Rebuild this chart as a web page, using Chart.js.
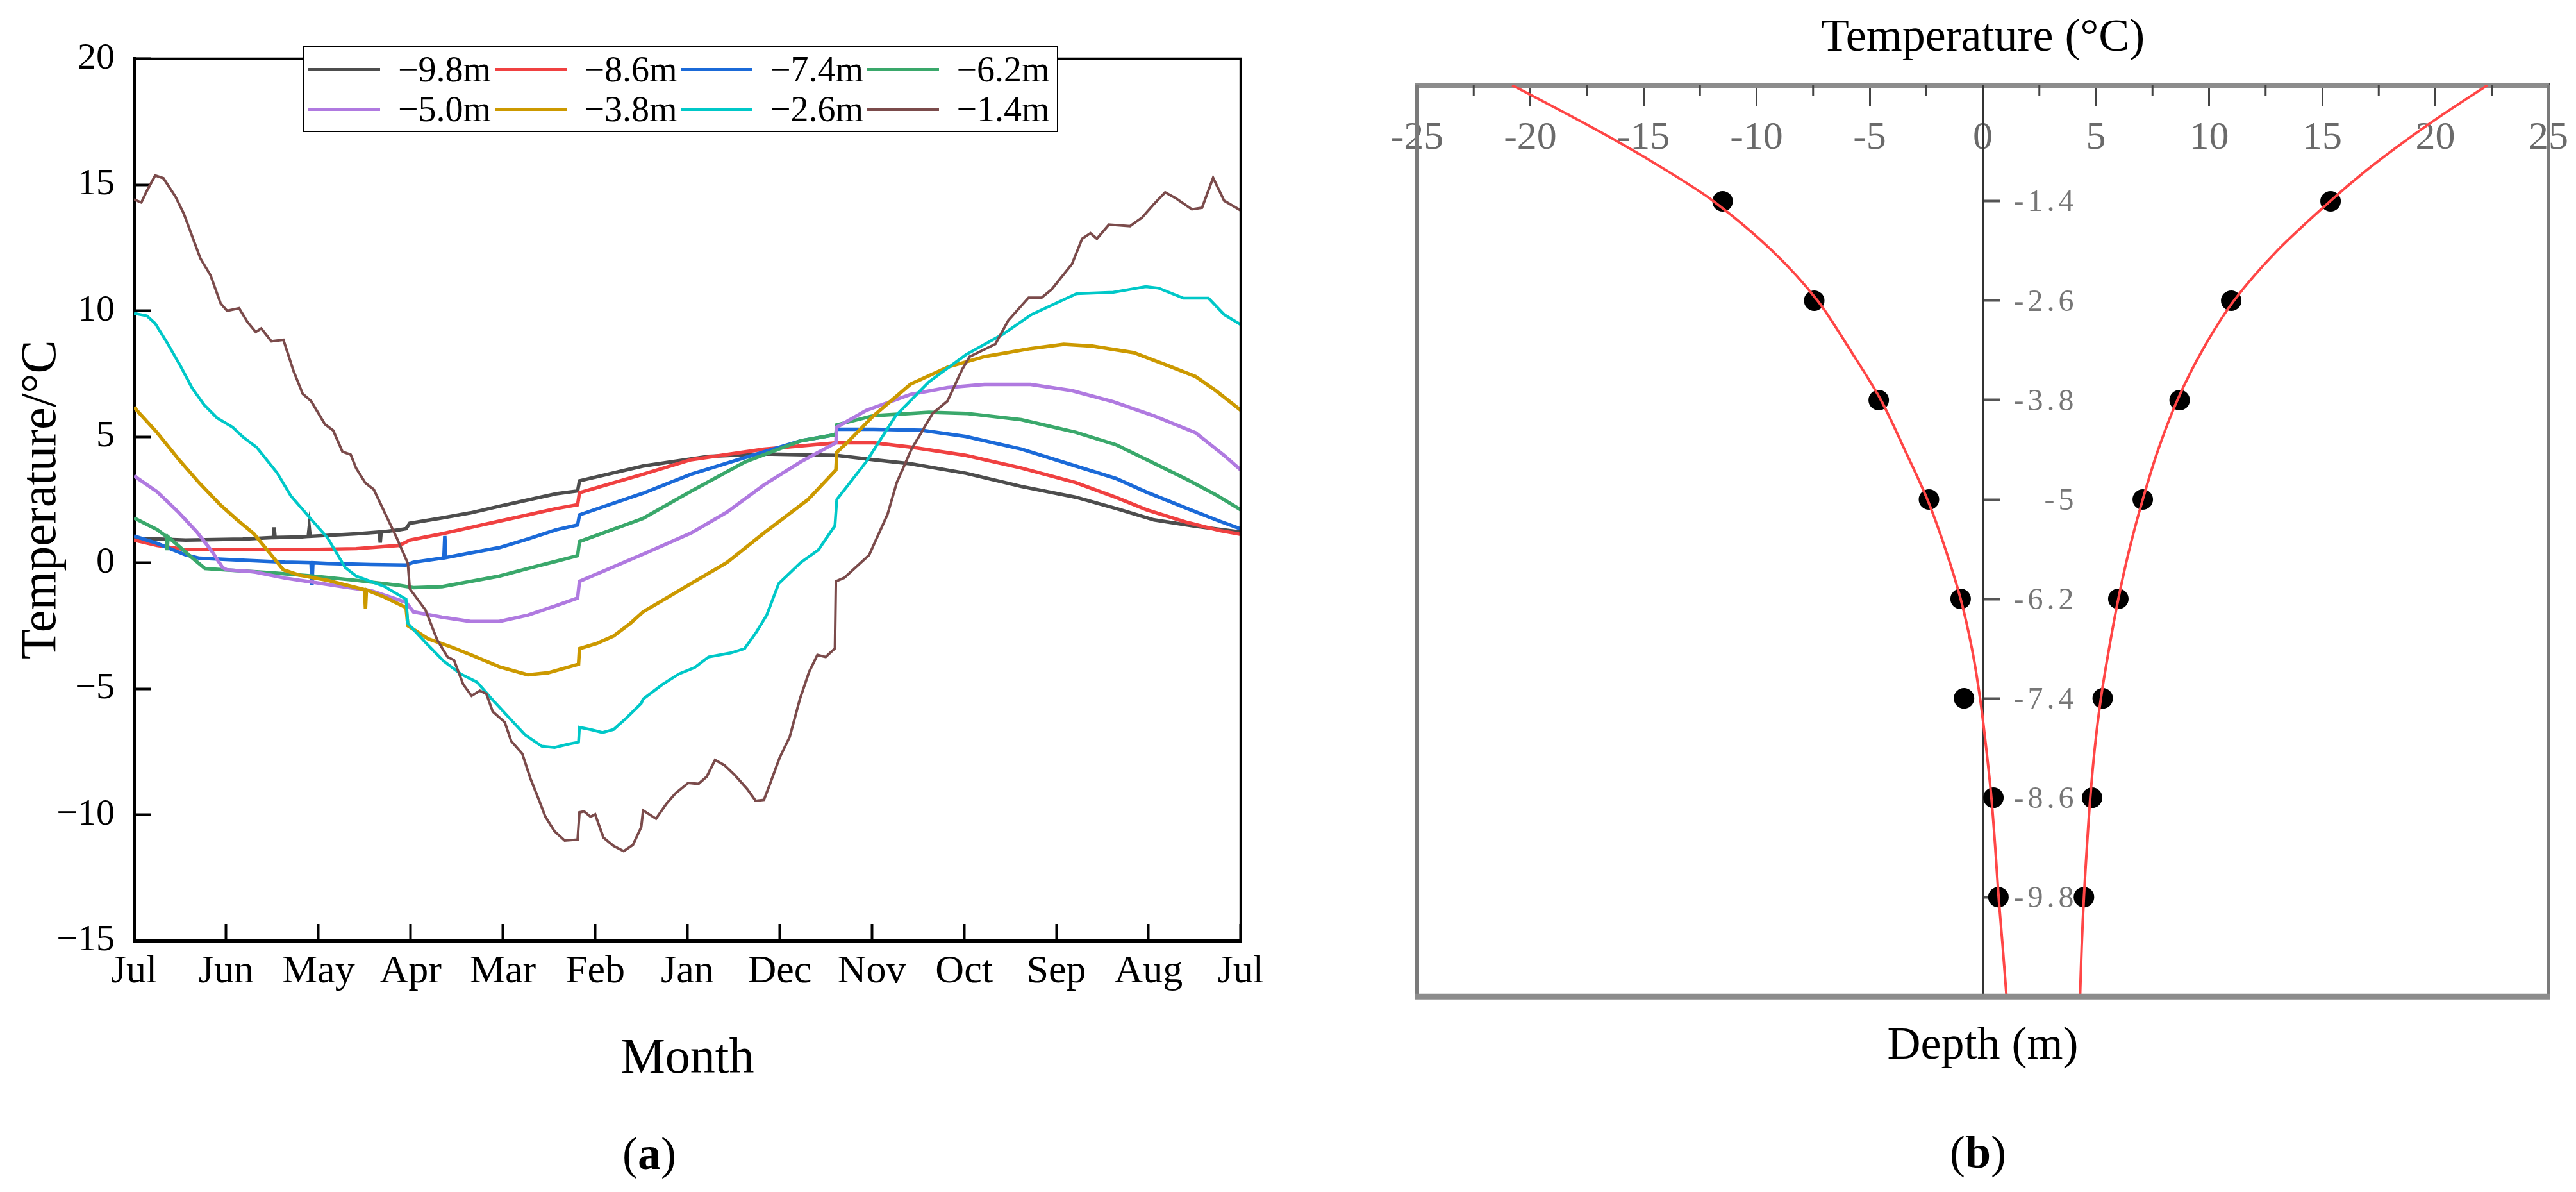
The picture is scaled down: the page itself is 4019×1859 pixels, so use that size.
<!DOCTYPE html>
<html>
<head>
<meta charset="utf-8">
<title>Ground temperature</title>
<script src="https://cdn.jsdelivr.net/npm/chart.js@4.4.1/dist/chart.umd.min.js"></script>
<style>
  html, body { margin: 0; padding: 0; background: #fff; }
  #page { position: relative; width: 4019px; height: 1859px; overflow: hidden; background: #fff; font-family: "Liberation Serif", serif; }
  canvas { position: absolute; top: 0; }
  #chartA { left: 0; }
  #chartB { left: 2010px; }
  #legendA {
    position: absolute; left: 472px; top: 72px; width: 1168px; height: 127px;
    border: 2px solid #000; background: #fff; padding: 3px 0 0 7px; box-sizing: content-box;
    display: grid; grid-template-columns: repeat(4, 290.5px); grid-template-rows: 62px 62px;
  }
  #legendA .item { display: flex; align-items: center; font-size: 56px; line-height: 1; color: #000; }
  #legendA .swatch { display: inline-block; width: 112px; height: 5px; margin-right: 28px; }
  .panel { position: absolute; font-size: 72px; line-height: 1; transform: translate(-50%, -50%); color: #000; }
</style>
</head>
<body>
<div id="page">
  <canvas id="chartA" width="2010" height="1859"></canvas>
  <canvas id="chartB" width="2009" height="1859"></canvas>
  <div id="legendA"></div>
  <div class="panel" style="left:1013px; top:1799px;">(<b>a</b>)</div>
  <div class="panel" style="left:3086px; top:1797px;">(<b>b</b>)</div>
</div>
<script>
// ---------- (a) daily temperature at each depth ----------
const monthLabels = ['Jul', 'Jun', 'May', 'Apr', 'Mar', 'Feb', 'Jan', 'Dec', 'Nov', 'Oct', 'Sep', 'Aug', 'Jul'];
const tempTicks = [-15, -10, -5, 0, 5, 10, 15, 20];
const seriesNames = ['\u22129.8m', '\u22128.6m', '\u22127.4m', '\u22126.2m', '\u22125.0m', '\u22123.8m', '\u22122.6m', '\u22121.4m'];
const seriesColors = ['#4d4d4d', '#f04141', '#1b6ad8', '#3aa86b', '#b07ae0', '#cc9900', '#00c8c8', '#7b4b4b'];
const seriesWidths = [5.5, 5.5, 5.5, 5.5, 5.5, 5.5, 4.5, 4];

// [month position, temperature]
const temp98 = [[0,0.98],[0.56,0.9],[1.18,0.94],[1.51,1.0],[1.52,1.4],[1.53,1.0],[1.8,1.02],[1.89,1.05],[1.9,1.4],[1.91,1.05],[2.41,1.15],[2.66,1.22],[2.67,0.8],[2.68,1.22],[2.88,1.31],[2.95,1.35],[2.99,1.57],[3.34,1.78],[3.65,1.98],[3.96,2.24],[4.27,2.49],[4.58,2.74],[4.81,2.85],[4.83,3.25],[5.52,3.84],[6.23,4.22],[6.83,4.32],[7.62,4.26],[8.02,4.09],[8.42,3.93],[9.02,3.55],[9.62,3.03],[10.21,2.6],[10.65,2.15],[11.06,1.7],[11.51,1.45],[12,1.22]];
const temp86 = [[0,0.9],[0.25,0.69],[0.56,0.52],[1.18,0.52],[1.8,0.52],[2.41,0.56],[2.88,0.69],[2.99,0.9],[3.34,1.15],[3.65,1.4],[3.96,1.65],[4.27,1.9],[4.58,2.15],[4.81,2.3],[4.83,2.78],[5.52,3.51],[6.04,4.09],[6.83,4.51],[7.62,4.76],[8.02,4.76],[8.42,4.59],[9.02,4.26],[9.62,3.76],[10.21,3.18],[10.65,2.59],[10.98,2.1],[11.42,1.6],[11.77,1.28],[12,1.13]];
const temp74 = [[0,1.06],[0.25,0.77],[0.56,0.31],[0.71,0.18],[1.18,0.1],[1.64,0.02],[1.92,0],[1.93,-0.9],[1.94,0],[2.1,-0.03],[2.57,-0.07],[2.95,-0.09],[3.03,0.02],[3.34,0.18],[3.36,0.19],[3.37,1.06],[3.38,0.2],[3.65,0.39],[3.96,0.6],[4.27,0.94],[4.58,1.31],[4.81,1.5],[4.83,1.9],[5.52,2.76],[6.04,3.51],[6.63,4.18],[7.23,4.84],[7.61,5.09],[7.62,5.3],[8.02,5.3],[8.54,5.26],[9.02,5.01],[9.62,4.51],[10.21,3.84],[10.65,3.34],[10.98,2.8],[11.42,2.15],[11.77,1.65],[12,1.34]];
const temp62 = [[0,1.78],[0.25,1.32],[0.35,1.05],[0.36,0.5],[0.37,1.03],[0.49,0.65],[0.62,0.23],[0.77,-0.23],[1.02,-0.29],[1.49,-0.4],[1.95,-0.53],[2.41,-0.7],[2.88,-0.9],[3.03,-0.99],[3.34,-0.95],[3.65,-0.74],[3.96,-0.53],[4.27,-0.23],[4.58,0.06],[4.81,0.28],[4.83,0.84],[5.52,1.76],[6.04,2.84],[6.63,4.01],[7.23,4.84],[7.61,5.09],[7.62,5.47],[8.02,5.84],[8.62,5.97],[9.02,5.93],[9.62,5.68],[10.21,5.18],[10.65,4.68],[11.06,3.95],[11.42,3.3],[11.73,2.7],[12,2.1]];
const temp50 = [[0,3.45],[0.25,2.82],[0.49,1.98],[0.68,1.23],[0.84,0.48],[0.96,-0.19],[1.01,-0.28],[1.3,-0.36],[1.64,-0.61],[1.95,-0.78],[2.26,-0.95],[2.57,-1.11],[2.95,-1.57],[3.03,-1.95],[3.34,-2.16],[3.65,-2.33],[3.96,-2.33],[4.27,-2.08],[4.58,-1.7],[4.81,-1.4],[4.83,-0.74],[5.52,0.34],[6.04,1.18],[6.43,2.01],[6.83,3.09],[7.23,4.01],[7.61,4.76],[7.62,5.38],[7.94,6.05],[8.42,6.68],[8.82,6.95],[9.22,7.08],[9.72,7.08],[10.17,6.83],[10.62,6.39],[11.06,5.83],[11.51,5.16],[11.82,4.26],[12,3.68]];
const temp38 = [[0,6.17],[0.25,5.17],[0.49,4.08],[0.71,3.16],[0.93,2.32],[1.11,1.73],[1.3,1.15],[1.45,0.48],[1.62,-0.28],[1.79,-0.49],[2.1,-0.7],[2.41,-0.99],[2.5,-1.07],[2.51,-1.83],[2.52,-1.08],[2.72,-1.37],[2.95,-1.78],[2.97,-2.5],[3.19,-3.02],[3.43,-3.33],[3.65,-3.65],[3.96,-4.13],[4.27,-4.45],[4.49,-4.37],[4.82,-4.03],[4.83,-3.41],[5.02,-3.2],[5.2,-2.91],[5.38,-2.41],[5.52,-1.95],[6.04,-0.83],[6.43,0.01],[6.83,1.18],[7.31,2.51],[7.61,3.68],[7.62,4.38],[7.73,4.76],[8.02,5.84],[8.42,7.09],[8.82,7.76],[9.22,8.18],[9.72,8.5],[10.08,8.67],[10.39,8.6],[10.84,8.34],[11.2,7.84],[11.51,7.39],[11.73,6.83],[12,6.05]];
const temp26 = [[0,9.9],[0.14,9.8],[0.23,9.5],[0.36,8.73],[0.5,7.84],[0.63,6.94],[0.76,6.27],[0.9,5.75],[1.07,5.38],[1.18,5.0],[1.33,4.58],[1.55,3.58],[1.7,2.66],[1.92,1.73],[2.1,0.98],[2.29,-0.19],[2.41,-0.53],[2.72,-0.95],[2.95,-1.45],[2.97,-2.41],[3.18,-3.24],[3.36,-3.91],[3.54,-4.41],[3.72,-4.74],[3.86,-5.33],[4.07,-6.16],[4.24,-6.83],[4.42,-7.28],[4.56,-7.33],[4.71,-7.2],[4.82,-7.12],[4.83,-6.53],[4.95,-6.62],[5.08,-6.74],[5.2,-6.62],[5.34,-6.16],[5.5,-5.58],[5.52,-5.41],[5.73,-4.83],[5.91,-4.41],[6.08,-4.16],[6.23,-3.74],[6.47,-3.58],[6.62,-3.41],[6.75,-2.74],[6.86,-2.08],[6.99,-0.83],[7.23,0.01],[7.42,0.51],[7.6,1.47],[7.62,2.51],[7.94,4.01],[8.26,5.84],[8.62,7.18],[9.02,8.26],[9.42,9.07],[9.73,9.85],[10.22,10.68],[10.62,10.74],[10.97,10.96],[11.11,10.9],[11.38,10.5],[11.65,10.5],[11.82,9.85],[12,9.45]];
const temp14 = [[0,14.42],[0.08,14.3],[0.14,14.76],[0.23,15.37],[0.32,15.26],[0.45,14.53],[0.54,13.86],[0.63,12.97],[0.72,12.08],[0.83,11.41],[0.94,10.29],[1.01,10.0],[1.14,10.1],[1.23,9.56],[1.32,9.16],[1.38,9.3],[1.49,8.79],[1.62,8.85],[1.73,7.61],[1.83,6.7],[1.92,6.42],[2.07,5.5],[2.16,5.25],[2.26,4.41],[2.35,4.29],[2.41,3.74],[2.51,3.16],[2.6,2.91],[2.72,1.98],[2.85,0.98],[2.97,-0.03],[2.99,-1.03],[3.16,-1.87],[3.29,-3.08],[3.4,-3.74],[3.47,-3.87],[3.57,-4.83],[3.66,-5.28],[3.75,-5.08],[3.82,-5.2],[3.89,-5.91],[4.02,-6.33],[4.09,-7.08],[4.21,-7.58],[4.3,-8.58],[4.39,-9.41],[4.46,-10.08],[4.56,-10.66],[4.67,-11.03],[4.81,-10.99],[4.83,-9.91],[4.88,-9.87],[4.95,-10.08],[5.0,-9.99],[5.09,-10.91],[5.2,-11.24],[5.31,-11.45],[5.41,-11.2],[5.5,-10.49],[5.52,-9.83],[5.66,-10.16],[5.77,-9.58],[5.87,-9.16],[6.01,-8.74],[6.12,-8.78],[6.21,-8.49],[6.3,-7.83],[6.4,-8.03],[6.51,-8.41],[6.65,-8.99],[6.74,-9.45],[6.83,-9.41],[6.9,-8.74],[7.0,-7.74],[7.11,-6.91],[7.22,-5.41],[7.32,-4.33],[7.41,-3.66],[7.5,-3.74],[7.6,-3.4],[7.61,-0.74],[7.7,-0.6],[7.97,0.3],[8.17,1.92],[8.27,3.18],[8.43,4.51],[8.66,5.93],[8.82,6.42],[8.98,7.68],[9.06,8.18],[9.34,8.68],[9.48,9.62],[9.7,10.52],[9.84,10.52],[9.95,10.85],[10.17,11.86],[10.28,12.86],[10.37,13.08],[10.44,12.86],[10.57,13.42],[10.8,13.36],[10.93,13.7],[11.05,14.2],[11.18,14.7],[11.29,14.48],[11.47,14.03],[11.58,14.09],[11.7,15.28],[11.82,14.37],[12,13.98]];
const seriesData = [temp98, temp86, temp74, temp62, temp50, temp38, temp26, temp14];

// ---------- (b) extreme temperature envelope vs depth ----------
const depthTicks = [-1.4, -2.6, -3.8, -5, -6.2, -7.4, -8.6, -9.8];
const minTemps = [-11.5, -7.45, -4.6, -2.38, -0.98, -0.83, 0.47, 0.69];
const maxTemps = [15.37, 10.98, 8.7, 7.07, 5.99, 5.3, 4.83, 4.47];
const fitDepths = [0, -0.35, -0.7, -1.05, -1.4, -2.0, -2.6, -3.2, -3.8, -4.4, -5.0, -5.6, -6.2, -6.8, -7.4, -8.0, -8.6, -9.2, -9.8, -10.4, -11];
const fitMin = [-20.8, -18.35, -16.0, -13.85, -11.9, -9.3, -7.3, -5.85, -4.5, -3.45, -2.45, -1.65, -0.98, -0.48, -0.12, 0.15, 0.38, 0.55, 0.7, 0.88, 1.05];
const fitMax = [22.3, 20.35, 18.53, 16.85, 15.35, 13.0, 11.1, 9.7, 8.6, 7.75, 7.07, 6.48, 5.99, 5.58, 5.22, 4.95, 4.75, 4.6, 4.47, 4.37, 4.3];
const minorTempTicks = [-22.5, -17.5, -12.5, -7.5, -2.5, 2.5, 7.5, 12.5, 17.5, 22.5];

const serif = 'Liberation Serif';

// legend of (a) as html
const legendBox = document.getElementById('legendA');
seriesNames.forEach((name, i) => {
  const item = document.createElement('div');
  item.className = 'item';
  const sw = document.createElement('span');
  sw.className = 'swatch';
  sw.style.background = seriesColors[i];
  item.appendChild(sw);
  item.appendChild(document.createTextNode(name));
  legendBox.appendChild(item);
});

// top and right edge of the frame of (a)
const frameA = {
  id: 'frameA',
  afterDraw(chart) {
    const { ctx, chartArea: a } = chart;
    ctx.save();
    ctx.strokeStyle = '#000';
    ctx.lineWidth = 4;
    ctx.beginPath();
    ctx.moveTo(a.left, a.top);
    ctx.lineTo(a.right, a.top);
    ctx.lineTo(a.right, a.bottom);
    ctx.stroke();
    ctx.restore();
  }
};

new Chart(document.getElementById('chartA'), {
  type: 'line',
  data: {
    datasets: seriesData.map((pts, i) => ({
      label: seriesNames[i],
      data: pts.map(p => ({ x: p[0], y: p[1] })),
      borderColor: seriesColors[i],
      borderWidth: seriesWidths[i],
      pointRadius: 0,
      tension: 0,
      fill: false,
      order: seriesData.length - i
    }))
  },
  options: {
    responsive: false,
    devicePixelRatio: 1,
    animation: false,
    events: [],
    layout: { padding: { left: 0, right: 70, top: 67, bottom: 0 } },
    plugins: { legend: { display: false }, tooltip: { enabled: false } },
    scales: {
      x: {
        type: 'linear',
        min: 0,
        max: 12,
        afterBuildTicks: s => { s.ticks = monthLabels.map((_, i) => ({ value: i })); },
        afterFit: s => { s.height = 392; },
        ticks: {
          callback: (v, i) => monthLabels[i],
          autoSkip: false,
          maxRotation: 0,
          color: '#000',
          padding: 38,
          font: { family: serif, size: 62 }
        },
        grid: { drawOnChartArea: false, tickLength: -26, tickWidth: 4, tickColor: '#000' },
        border: { color: '#000', width: 5 },
        title: {
          display: true, text: 'Month', color: '#000',
          font: { family: serif, size: 78 },
          padding: { top: 0, bottom: 160 }
        }
      },
      y: {
        min: -15,
        max: 20,
        afterBuildTicks: s => { s.ticks = tempTicks.map(v => ({ value: v })); },
        afterFit: s => { s.width = 209; },
        ticks: {
          callback: v => (v < 0 ? '\u2212' + Math.abs(v) : String(v)),
          color: '#000',
          padding: 57,
          font: { family: serif, size: 58 }
        },
        grid: { drawOnChartArea: false, tickLength: -27, tickWidth: 4, tickColor: '#000' },
        border: { color: '#000', width: 5 },
        title: {
          display: true, text: 'Temperature/\u00b0C', color: '#000',
          font: { family: serif, size: 78 },
          padding: { top: 19, bottom: 0 }
        }
      }
    }
  },
  plugins: [frameA]
});

// frame, minor ticks and depth labels of (b)
const frameB = {
  id: 'frameB',
  afterDraw(chart) {
    const { ctx, chartArea: a } = chart;
    const xs = chart.scales.x;
    const ys = chart.scales.y;
    ctx.save();
    ctx.strokeStyle = '#7a7a7a';
    ctx.lineWidth = 6;
    ctx.beginPath();
    ctx.moveTo(a.left, a.top);
    ctx.lineTo(a.left, a.bottom);
    ctx.moveTo(a.right, a.top);
    ctx.lineTo(a.right, a.bottom);
    ctx.stroke();
    ctx.strokeStyle = '#8c8c8c';
    ctx.lineWidth = 9;
    ctx.beginPath();
    ctx.moveTo(a.left - 3, a.bottom);
    ctx.lineTo(a.right + 3, a.bottom);
    ctx.stroke();
    ctx.strokeStyle = '#444';
    ctx.lineWidth = 3;
    ctx.beginPath();
    minorTempTicks.forEach(v => {
      const px = xs.getPixelForValue(v);
      ctx.moveTo(px, a.top);
      ctx.lineTo(px, a.top + 17);
    });
    ctx.stroke();
    // depth labels, right-aligned to the right of the zero line
    const x0 = xs.getPixelForValue(0);
    ctx.fillStyle = '#777';
    ctx.font = '48px "Liberation Serif"';
    ctx.letterSpacing = '6px';
    ctx.textAlign = 'right';
    ctx.textBaseline = 'middle';
    depthTicks.forEach(d => {
      ctx.fillText(String(d), x0 + 148, ys.getPixelForValue(d) + 3);
    });
    ctx.restore();
  }
};

new Chart(document.getElementById('chartB'), {
  type: 'scatter',
  data: {
    datasets: [
      {
        data: fitDepths.map((d, i) => ({ x: fitMin[i], y: d })),
        showLine: true, borderColor: '#ff4646', borderWidth: 4, pointRadius: 0, tension: 0.3
      },
      {
        data: fitDepths.map((d, i) => ({ x: fitMax[i], y: d })),
        showLine: true, borderColor: '#ff4646', borderWidth: 4, pointRadius: 0, tension: 0.3
      },
      {
        data: depthTicks.map((d, i) => ({ x: minTemps[i], y: d })),
        pointRadius: 16, pointBackgroundColor: '#000', pointBorderWidth: 0
      },
      {
        data: depthTicks.map((d, i) => ({ x: maxTemps[i], y: d })),
        pointRadius: 16, pointBackgroundColor: '#000', pointBorderWidth: 0
      }
    ]
  },
  options: {
    responsive: false,
    devicePixelRatio: 1,
    animation: false,
    events: [],
    layout: { padding: { left: 201, right: 43, top: 0, bottom: 183.6 } },
    plugins: {
      legend: { display: false },
      tooltip: { enabled: false },
      title: {
        display: true, position: 'bottom', text: 'Depth (m)', color: '#000',
        font: { family: serif, size: 72, weight: 'normal' },
        padding: { top: 34.8, bottom: 0 }
      }
    },
    scales: {
      x: {
        type: 'linear',
        position: 'top',
        min: -25,
        max: 25,
        afterFit: s => { s.height = 133; s.paddingLeft = 0; s.paddingRight = 0; },
        ticks: {
          stepSize: 5,
          mirror: true,
          color: '#6a6a6a',
          padding: 46,
          font: { family: serif, size: 62 }
        },
        grid: { drawOnChartArea: false, tickLength: -32, tickWidth: 3, tickColor: '#444' },
        border: { color: '#8c8c8c', width: 9 },
        title: {
          display: true, text: 'Temperature (\u00b0C)', color: '#000',
          font: { family: serif, size: 72 },
          padding: { top: 17, bottom: 0 }
        }
      },
      y: {
        type: 'linear',
        position: { x: 0 },
        min: -11,
        max: 0,
        afterBuildTicks: s => { s.ticks = depthTicks.map(v => ({ value: v })); },
        ticks: { display: false },
        grid: { drawOnChartArea: false, tickLength: -28, tickWidth: 4, tickColor: '#555' },
        border: { color: '#333', width: 3 }
      }
    }
  },
  plugins: [frameB]
});
</script>
</body>
</html>
